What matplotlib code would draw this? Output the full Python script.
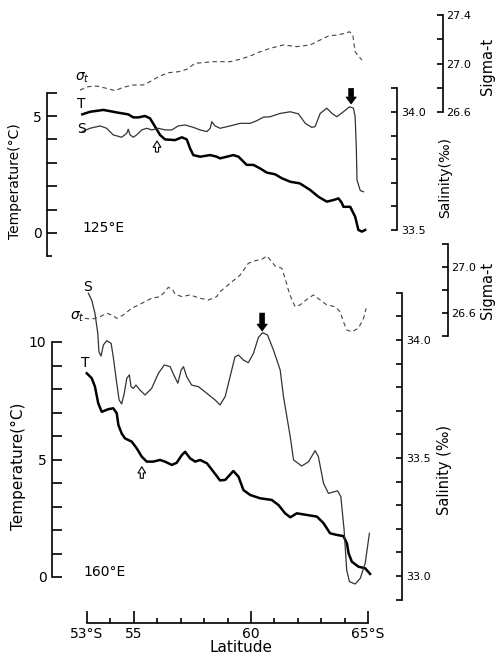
import matplotlib
matplotlib.use("Agg")
import matplotlib.pyplot as plt

W, H = 501, 658

# ---- 125°E section (upper panel) ----
lat_t125 = [52.80, 53.13, 53.70, 54.34, 54.76, 54.98, 55.19, 55.48, 55.69, 55.91,
            56.12, 56.33, 56.76, 57.05, 57.26, 57.40, 57.54, 57.83, 58.26, 58.54,
            58.68, 58.97, 59.25, 59.47, 59.68, 59.82, 60.11, 60.39, 60.68, 61.03,
            61.32, 61.68, 62.09, 62.53, 62.88, 63.24, 63.53, 63.74, 63.88, 63.95,
            64.24, 64.45, 64.59, 64.74, 64.88]
temp125 = [5.07, 5.18, 5.26, 5.14, 5.07, 4.94, 4.94, 5.00, 4.90, 4.54,
           4.19, 4.00, 3.97, 4.09, 4.00, 3.62, 3.33, 3.26, 3.33, 3.26,
           3.19, 3.26, 3.33, 3.26, 3.05, 2.91, 2.91, 2.76, 2.58, 2.51,
           2.34, 2.19, 2.12, 1.84, 1.55, 1.34, 1.41, 1.48, 1.29, 1.12,
           1.12, 0.70, 0.13, 0.06, 0.13]

lat_s125 = [52.80, 53.13, 53.56, 53.84, 54.12, 54.48, 54.70, 54.76, 54.84, 54.98,
            55.12, 55.34, 55.55, 55.77, 56.05, 56.33, 56.62, 56.90, 57.19, 57.54,
            57.83, 58.12, 58.26, 58.33, 58.47, 58.68, 59.11, 59.54, 59.97, 60.25,
            60.53, 60.82, 61.25, 61.68, 62.03, 62.32, 62.60, 62.74, 62.96, 63.24,
            63.46, 63.67, 63.95, 64.21, 64.38, 64.45, 64.50, 64.53, 64.67, 64.81]
sal125 = [33.917, 33.931, 33.941, 33.931, 33.903, 33.893, 33.910, 33.927, 33.903, 33.893,
          33.903, 33.924, 33.931, 33.924, 33.931, 33.924, 33.924, 33.941, 33.945, 33.935,
          33.924, 33.917, 33.931, 33.959, 33.941, 33.931, 33.941, 33.952, 33.952, 33.963,
          33.978, 33.980, 33.994, 34.001, 33.992, 33.952, 33.935, 33.938, 33.994, 34.016,
          33.994, 33.980, 34.001, 34.022, 34.016, 33.980, 33.853, 33.712, 33.667, 33.662]

lat_g125 = [52.70, 53.06, 53.41, 53.84, 54.20, 54.55, 54.98, 55.41, 55.69, 56.05,
            56.47, 56.90, 57.26, 57.62, 57.97, 58.33, 58.68, 59.11, 59.54, 59.97,
            60.39, 60.82, 61.39, 61.96, 62.53, 62.96, 63.31, 63.67, 64.03, 64.21,
            64.35, 64.41, 64.45, 64.59, 64.74]
sig125 = [26.781, 26.809, 26.814, 26.795, 26.776, 26.804, 26.823, 26.823, 26.850, 26.891,
          26.924, 26.932, 26.952, 27.002, 27.007, 27.015, 27.015, 27.015, 27.035, 27.062,
          27.097, 27.125, 27.153, 27.139, 27.153, 27.194, 27.227, 27.235, 27.249, 27.262,
          27.235, 27.153, 27.097, 27.062, 27.029]

# ---- 160°E section (lower panel) ----
lat_t160 = [52.99, 53.20, 53.34, 53.48, 53.63, 53.91, 54.12, 54.27, 54.34, 54.48,
            54.62, 54.91, 55.12, 55.34, 55.55, 55.83, 56.12, 56.33, 56.62, 56.83,
            57.05, 57.19, 57.40, 57.62, 57.83, 58.12, 58.40, 58.68, 58.90, 59.25,
            59.47, 59.68, 59.97, 60.39, 60.89, 61.18, 61.46, 61.68, 61.96, 62.39,
            62.82, 63.10, 63.38, 63.67, 63.95, 64.10, 64.17, 64.31, 64.59, 64.88,
            65.09]
temp160 = [8.67, 8.46, 8.10, 7.39, 7.03, 7.14, 7.18, 6.97, 6.47, 6.11,
           5.90, 5.76, 5.48, 5.12, 4.91, 4.91, 4.98, 4.91, 4.77, 4.86,
           5.19, 5.33, 5.05, 4.91, 4.98, 4.84, 4.48, 4.11, 4.13, 4.51,
           4.27, 3.70, 3.49, 3.35, 3.28, 3.06, 2.71, 2.54, 2.71, 2.64,
           2.57, 2.29, 1.86, 1.79, 1.74, 1.43, 1.01, 0.65, 0.44, 0.37,
           0.13]

lat_s160 = [53.06, 53.20, 53.34, 53.46, 53.51, 53.60, 53.70, 53.84, 54.03, 54.12,
            54.27, 54.37, 54.48, 54.59, 54.70, 54.81, 54.88, 54.98, 55.09, 55.26,
            55.48, 55.76, 56.05, 56.30, 56.55, 56.73, 56.88, 57.02, 57.12, 57.26,
            57.47, 57.76, 58.12, 58.47, 58.68, 58.90, 59.11, 59.32, 59.47, 59.68,
            59.89, 60.11, 60.32, 60.50, 60.71, 60.96, 61.25, 61.39, 61.68, 61.82,
            62.17, 62.46, 62.74, 62.88, 63.10, 63.31, 63.70, 63.84, 63.98, 64.09,
            64.21, 64.45, 64.67, 64.88, 65.06]
sal160 = [34.198, 34.169, 34.113, 34.028, 33.950, 33.932, 33.979, 33.997, 33.986, 33.929,
          33.817, 33.746, 33.729, 33.774, 33.838, 33.852, 33.802, 33.795, 33.809, 33.788,
          33.767, 33.795, 33.859, 33.894, 33.887, 33.847, 33.817, 33.873, 33.887, 33.844,
          33.809, 33.802, 33.774, 33.746, 33.725, 33.760, 33.844, 33.929, 33.936, 33.915,
          33.904, 33.944, 34.011, 34.031, 34.021, 33.958, 33.873, 33.760, 33.590, 33.492,
          33.466, 33.484, 33.531, 33.506, 33.393, 33.350, 33.361, 33.336, 33.195, 33.025,
          32.976, 32.966, 32.990, 33.054, 33.181]

lat_g160 = [52.91, 53.20, 53.56, 53.84, 54.06, 54.27, 54.55, 54.91, 55.34, 55.76,
            56.12, 56.33, 56.47, 56.65, 56.76, 57.05, 57.40, 57.83, 58.18, 58.54,
            58.68, 59.11, 59.54, 59.89, 60.18, 60.47, 60.68, 60.89, 61.03, 61.32,
            61.46, 61.60, 61.75, 61.89, 62.10, 62.39, 62.67, 62.96, 63.24, 63.60,
            63.81, 63.95, 64.10, 64.31, 64.59, 64.81, 64.92]
sig160 = [26.554, 26.545, 26.568, 26.597, 26.583, 26.554, 26.583, 26.641, 26.684, 26.728,
          26.742, 26.785, 26.823, 26.806, 26.765, 26.742, 26.757, 26.728, 26.713, 26.742,
          26.785, 26.858, 26.930, 27.032, 27.055, 27.067, 27.096, 27.046, 27.009, 26.989,
          26.902, 26.800, 26.713, 26.655, 26.670, 26.719, 26.757, 26.713, 26.670, 26.655,
          26.611, 26.524, 26.452, 26.437, 26.467, 26.554, 26.641]

lat_ticks = [53, 55, 60, 65]
lat_labels = ["53°S", "55", "60", "65°S"]


def scale(v0, p0, v1, p1, p):
    # pixel -> value, linear through (p0, v0) and (p1, v1)
    return v0 + (p - p0) * (v1 - v0) / (p1 - p0)


def rect(left, top, right, bottom):
    return [left / W, 1 - bottom / H, (right - left) / W, (bottom - top) / H]


def ftext(fig, x, y, s, **kw):
    fig.text(x / W, 1 - y / H, s, **kw)


def only_spine(ax, keep):
    for name, sp in ax.spines.items():
        sp.set_visible(name in keep)
        sp.set_linewidth(1.2)


def lat_of(px):
    return scale(53, 87, 65, 368, px)


def arrow(ax, tip, tail, filled):
    if filled:
        style = "simple,head_width=0.75,head_length=0.5,tail_width=0.35"
        props = dict(arrowstyle=style, fc="black", ec="black", lw=0.5)
    else:
        style = "simple,head_width=0.55,head_length=0.45,tail_width=0.22"
        props = dict(arrowstyle=style, fc="white", ec="black", lw=0.8)
    props.update(shrinkA=0, shrinkB=0)
    ax.annotate("", xy=tip, xytext=tail, arrowprops=props)


def panel(fig, left, top, right, bottom, t_ref, s_ref, g_ref,
          t_ticks, t_labels, s_ticks, s_labels, g_ticks, g_labels):
    ax = fig.add_axes(rect(left, top, right, bottom))
    ax.set_xlim(lat_of(left), lat_of(right))
    ax.set_ylim(scale(*t_ref, bottom), scale(*t_ref, top))
    only_spine(ax, ["left"])
    ax.spines["left"].set_bounds(t_ticks[0], t_ticks[-1])
    ax.set_yticks(t_ticks)
    ax.set_yticklabels(t_labels)
    ax.tick_params(axis="y", direction="in", length=7, width=1.2, pad=4, labelsize=10)

    axs = ax.twinx()
    axs.set_ylim(scale(*s_ref, bottom), scale(*s_ref, top))
    only_spine(axs, ["right"])
    axs.spines["right"].set_position(("axes", 0.8838))
    axs.spines["right"].set_bounds(s_ticks[0], s_ticks[-1])
    axs.set_yticks(s_ticks)
    axs.set_yticklabels(s_labels)
    axs.tick_params(axis="y", direction="in", length=4.5, width=1.2, pad=3, labelsize=8)

    axg = ax.twinx()
    axg.set_ylim(scale(*g_ref, bottom), scale(*g_ref, top))
    only_spine(axg, ["right"])
    axg.spines["right"].set_bounds(g_ticks[0], g_ticks[-1])
    axg.set_yticks(g_ticks)
    axg.set_yticklabels(g_labels)
    axg.tick_params(axis="y", direction="in", length=4.5, width=1.2, pad=2, labelsize=8)
    return ax, axs, axg


def draw():
    fig = plt.figure(figsize=(W / 100, H / 100), dpi=100)

    # upper panel, 125°E
    ax, axs, axg = panel(
        fig, 47, 10, 443, 260,
        (0, 233, 5, 116), (34.0, 112, 33.5, 230), (27.4, 15, 26.6, 112),
        [-1, 0, 1, 2, 3, 4, 5, 6], ["", "0", "", "", "", "", "5", ""],
        [33.5, 33.6, 33.7, 33.8, 33.9, 34.0, 34.1], ["33.5", "", "", "", "", "34.0", ""],
        [26.6, 26.8, 27.0, 27.2, 27.4], ["26.6", "", "27.0", "", "27.4"])
    ax.set_xticks([])
    ax.plot(lat_t125, temp125, color="black", lw=1.8)
    axs.plot(lat_s125, sal125, color="#333333", lw=0.9)
    axg.plot(lat_g125, sig125, color="#444444", lw=0.8, dashes=(4, 3))
    arrow(axs, (64.28, 34.034), (64.28, 34.10), True)
    arrow(ax, (55.99, 3.93), (55.99, 3.46), False)

    # lower panel, 160°E
    ax2, axs2, axg2 = panel(
        fig, 52, 235, 448, 623,
        (10, 342, 0, 577), (34.0, 340, 33.0, 576), (27.0, 267, 26.6, 313),
        list(range(0, 11)), ["0", "", "", "", "", "5", "", "", "", "", "10"],
        [32.9, 33.0, 33.1, 33.2, 33.3, 33.4, 33.5, 33.6, 33.7, 33.8, 33.9, 34.0, 34.1, 34.2],
        ["", "33.0", "", "", "", "", "33.5", "", "", "", "", "34.0", "", ""],
        [26.4, 26.6, 26.8, 27.0, 27.2], ["", "26.6", "", "27.0", ""])
    ax2.spines["bottom"].set_visible(True)
    ax2.spines["bottom"].set_bounds(53, 65)
    ax2.set_xticks(lat_ticks)
    ax2.set_xticklabels(lat_labels)
    ax2.set_xticks(range(53, 66), minor=True)
    ax2.tick_params(axis="x", which="major", direction="in", length=9, width=1.2, pad=3, labelsize=10)
    ax2.tick_params(axis="x", which="minor", direction="in", length=3.5, width=1.2)
    ax2.plot(lat_t160, temp160, color="black", lw=1.8)
    axs2.plot(lat_s160, sal160, color="#333333", lw=0.9)
    axg2.plot(lat_g160, sig160, color="#444444", lw=0.8, dashes=(4, 3))
    arrow(axs2, (60.48, 34.038), (60.48, 34.114), True)
    arrow(ax2, (55.34, 4.69), (55.34, 4.20), False)

    # labels
    ftext(fig, 15, 181, "Temperature(°C)", rotation=90, ha="center", va="center", fontsize=10)
    ftext(fig, 18, 466, "Temperature(°C)", rotation=90, ha="center", va="center", fontsize=11)
    ftext(fig, 445, 177, "Salinity(‰)", rotation=90, ha="center", va="center", fontsize=10)
    ftext(fig, 445, 470, "Salinity (‰)", rotation=90, ha="center", va="center", fontsize=10.5)
    ftext(fig, 488, 66, "Sigma-t", rotation=90, ha="center", va="center", fontsize=10.5)
    ftext(fig, 488, 290, "Sigma-t", rotation=90, ha="center", va="center", fontsize=10.5)
    ftext(fig, 241, 648, "Latitude", ha="center", va="center", fontsize=11)

    ftext(fig, 82, 228, "125°E", ha="left", va="center", fontsize=10)
    ftext(fig, 83, 572, "160°E", ha="left", va="center", fontsize=10)
    ftext(fig, 82, 78, r"$\sigma_t$", ha="center", va="center", fontsize=10)
    ftext(fig, 81, 104, "T", ha="center", va="center", fontsize=10)
    ftext(fig, 82, 129, "S", ha="center", va="center", fontsize=10)
    ftext(fig, 88, 287, "S", ha="center", va="center", fontsize=10)
    ftext(fig, 77, 317, r"$\sigma_t$", ha="center", va="center", fontsize=10)
    ftext(fig, 85, 363, "T", ha="center", va="center", fontsize=10)

    fig.savefig("out.png", dpi=100)
    return fig


draw()
